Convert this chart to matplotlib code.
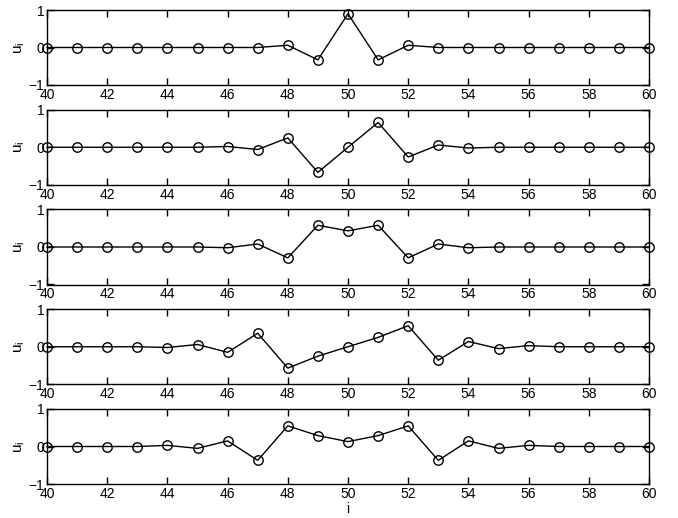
import matplotlib
matplotlib.use("Agg")
import matplotlib.pyplot as plt
import numpy as np

# lattice sites shown on every panel
sites = list(range(40, 61))

# displacement profiles u_i (one list per panel); sites outside 44..57 are at rest
u_panel1 = [0, 0, 0, 0, 0, 0, 0, 0, 0.06, -0.33, 0.90, -0.33, 0.06, 0, 0, 0, 0, 0, 0, 0, 0]
u_panel2 = [0, 0, 0, 0, 0, 0, 0.02, -0.06, 0.25, -0.67, 0.0, 0.66, -0.26, 0.06, -0.02, 0, 0, 0, 0, 0, 0]
u_panel3 = [0, 0, 0, 0, 0, 0, -0.02, 0.08, -0.29, 0.58, 0.43, 0.58, -0.29, 0.08, -0.02, 0, 0, 0, 0, 0, 0]
u_panel4 = [0, 0, 0, 0, -0.02, 0.06, -0.15, 0.36, -0.57, -0.25, 0.0, 0.25, 0.56, -0.36, 0.14, -0.05, 0.03, 0, 0, 0, 0]
u_panel5 = [0, 0, 0, 0, 0.03, -0.05, 0.15, -0.37, 0.55, 0.29, 0.13, 0.29, 0.55, -0.37, 0.15, -0.05, 0.03, 0, 0, 0, 0]
panels = [u_panel1, u_panel2, u_panel3, u_panel4, u_panel5]

x_ticks = list(range(40, 61, 2))
y_ticks = [-1, 0, 1]

plt.rcParams["font.family"] = ["Liberation Sans", "DejaVu Sans"]
plt.rcParams["mathtext.fontset"] = "custom"
plt.rcParams["mathtext.rm"] = "Liberation Sans"
plt.rcParams["mathtext.it"] = "Liberation Sans"

W, H = 678, 518
fig = plt.figure(figsize=(W / 100, H / 100), dpi=100)

left_px, right_px = 47, 649
top0_px, height_px, step_px = 10, 75, 99.75

for k, u in enumerate(panels):
    top = top0_px + k * step_px
    ax = fig.add_axes([left_px / W, 1 - (top + height_px) / H,
                       (right_px - left_px) / W, height_px / H])
    ax.plot(sites, u, color="black", linewidth=1.0, marker="o",
            markersize=6.8, markerfacecolor="none", markeredgecolor="black",
            markeredgewidth=1.0, clip_on=False)
    ax.set_xlim(40, 60)
    ax.set_ylim(-1, 1)
    ax.set_xticks(x_ticks)
    ax.set_yticks(y_ticks)
    ax.tick_params(direction="in", top=True, right=True, length=5,
                   width=1.0, labelsize=10, pad=2)
    for s in ax.spines.values():
        s.set_linewidth(1.0)
    ax.set_ylabel(r"$\mathregular{u_i}$", fontsize=11, labelpad=1)
    if k == len(panels) - 1:
        ax.set_xlabel("i", fontsize=10, labelpad=1)

fig.savefig("out.png", dpi=100)
